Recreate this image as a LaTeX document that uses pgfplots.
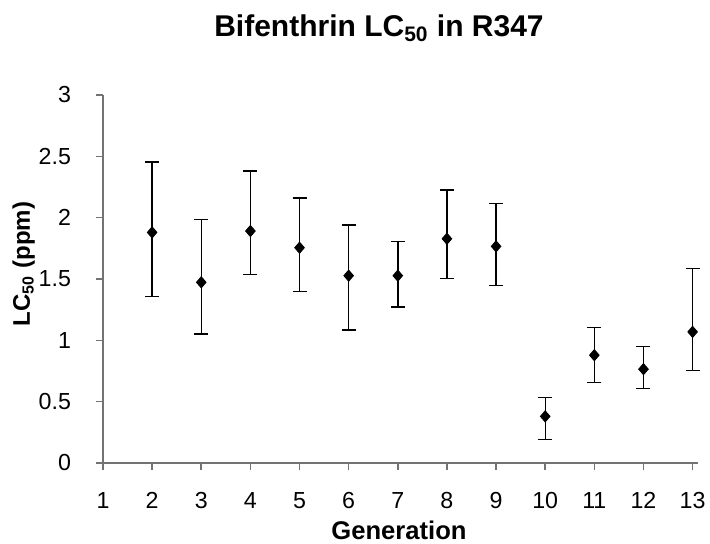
\documentclass[border=0pt]{standalone}
\usepackage{fontspec}
\setmainfont{Liberation Sans}
\usepackage{pgfplots}
\pgfplotsset{compat=1.18}
\usepackage{pgfplotstable}

% generation, LC50, upper and lower error
\pgfplotstableread{
x   y     ep    em
2   1.880 0.575 0.524
3   1.473 0.510 0.420
4   1.891 0.488 0.356
5   1.755 0.404 0.355
6   1.527 0.413 0.442
7   1.527 0.277 0.255
8   1.828 0.396 0.325
9   1.766 0.350 0.317
10  0.380 0.152 0.190
11  0.879 0.225 0.222
12  0.765 0.185 0.160
13  1.069 0.515 0.317
}\lcdata

\begin{document}
\begin{tikzpicture}
\begin{axis}[
  name=ax,
  scale only axis,
  width=297.5pt, height=184pt,
  xmin=1, xmax=13.11,
  ymin=0, ymax=3,
  xtick={1,2,...,13},
  ytick={0,0.5,...,3},
  axis x line*=bottom,
  axis y line*=left,
  axis line style={black!55, line width=0.8pt},
  tick style={black!55, line width=0.8pt},
  tick align=outside,
  major tick length=3.3pt,
  ticklabel style={font=\fontsize{11.6}{14}\selectfont, inner sep=0pt},
  xticklabel style={anchor=base, yshift=-19.3pt},
  yticklabel style={anchor=east, xshift=-12.5pt},
  /pgf/number format/assume math mode=true,
  clip=false,
]
\addplot[
  only marks,
  mark=diamond*,
  mark size=2.8pt,
  mark options={fill=black, draw=black, xscale=1.15},
  error bars/.cd,
    y dir=both, y explicit,
    error bar style={line width=0.7pt, black},
    error mark options={rotate=90, mark size=3.5pt, line width=0.7pt, black},
] table[x=x, y=y, y error plus=ep, y error minus=em] {\lcdata};
\end{axis}
\node[anchor=base, inner sep=0pt, font=\fontsize{15}{17}\selectfont\bfseries] at ([xshift=138pt, yshift=29pt]ax.north west) {Bifenthrin LC\textsubscript{50} in R347};
\node[anchor=base, inner sep=0pt, font=\fontsize{12}{14}\selectfont\bfseries, rotate=90] at ([xshift=-36.5pt, yshift=99.5pt]ax.south west) {LC\textsubscript{50} (ppm)};
\node[anchor=base, inner sep=0pt, font=\fontsize{12.8}{14}\selectfont\bfseries] at ([xshift=148pt, yshift=-38.5pt]ax.south west) {Generation};
\pgfresetboundingbox
\path[use as bounding box] ([xshift=-51.5pt, yshift=-40.5pt]ax.south west) rectangle ([xshift=6pt, yshift=47.5pt]ax.north east);
\end{tikzpicture}
\end{document}
